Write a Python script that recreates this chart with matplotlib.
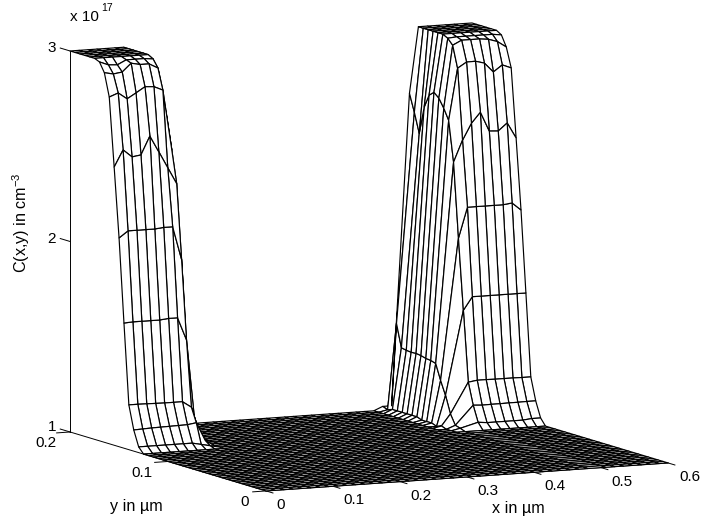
import numpy as np
import matplotlib
matplotlib.use("Agg")
import matplotlib.pyplot as plt

plt.rcParams["font.family"] = ["Liberation Sans", "DejaVu Sans"]
plt.rcParams["mathtext.fontset"] = "custom"
plt.rcParams["mathtext.rm"] = "Liberation Sans"
plt.rcParams["mathtext.default"] = "rm"

W, H = 702, 519

# mesh axes, um (x mesh skips one line on the slope of the right ridge)
x_um = np.delete(np.linspace(0, 0.6, 46), 37)
y_um = np.linspace(0, 0.2, 41)

x_ticks = [0, 0.1, 0.2, 0.3, 0.4, 0.5, 0.6]
y_ticks = [0, 0.1, 0.2]
z_ticks = [1, 2, 3]

# concentration read off the walls (x 1e17), rows y index 40 -> 26
# left ridge: first 9 x lines
left_rows = [
    [3, 3, 3, 3, 3, 3, 3, 2.89, 1.1],
    [3, 3, 3, 3, 3, 3, 3, 2.89, 1.1],
    [3, 3, 3, 3, 3, 3, 3, 2.89, 1.1],
    [3, 3, 3, 3, 3, 3, 3, 2.89, 1.1],
    [3, 3, 3, 3, 3, 3, 3, 2.89, 1.1],
    [3, 3, 3, 3, 3, 3, 3, 2.89, 1.1],
    [2.989, 2.97, 2.967, 2.99, 2.99, 2.99, 2.985, 2.79, 1.1],
    [2.94, 2.93, 2.937, 2.98, 2.97, 2.97, 2.945, 2.68, 1.1],
    [2.82, 2.838, 2.804, 2.832, 2.861, 2.858, 2.837, 2.52, 1.1],
    [2.46, 2.547, 2.507, 2.514, 2.61, 2.524, 2.437, 2.35, 1.1],
    [2.096, 2.13, 2.13, 2.13, 2.13, 2.135, 2.135, 1.96, 1.1],
    [1.657, 1.66, 1.66, 1.66, 1.66, 1.665, 1.665, 1.546, 1.08],
    [1.235, 1.235, 1.234, 1.233, 1.232, 1.232, 1.232, 1.2, 1.05],
    [1.111, 1.113, 1.115, 1.116, 1.117, 1.118, 1.119, 1.126, 1.03],
    [1.03, 1.03, 1.03, 1.03, 1.03, 1.03, 1.03, 1.02, 1.01],
]
# right ridge: last 10 x lines
right_rows = [
    [1.02, 1.02, 2.654, 3, 3, 3, 3, 3, 3, 3],
    [1.01, 1.46, 2.562, 3, 3, 3, 3, 3, 3, 3],
    [1.02, 1.34, 2.459, 3, 3, 3, 3, 3, 3, 3],
    [1.02, 1.335, 2.604, 3, 3, 3, 3, 3, 3, 3],
    [1.02, 1.332, 2.675, 3, 3, 3, 3, 3, 3, 3],
    [1.02, 1.334, 2.698, 3, 3, 3, 3, 3, 3, 3],
    [1.02, 1.33, 2.675, 2.986, 2.99, 2.99, 2.99, 2.99, 2.99, 2.984],
    [1.02, 1.323, 2.63, 2.957, 2.98, 2.98, 2.98, 2.975, 2.96, 2.928],
    [1.01, 1.32, 2.574, 2.844, 2.873, 2.874, 2.861, 2.811, 2.845, 2.826],
    [1.01, 1.312, 2.362, 2.474, 2.56, 2.615, 2.512, 2.509, 2.548, 2.466],
    [1.01, 1.231, 1.971, 2.13, 2.13, 2.13, 2.13, 2.13, 2.136, 2.096],
    [1.0, 1.16, 1.6, 1.668, 1.668, 1.668, 1.668, 1.668, 1.668, 1.668],
    [1.01, 1.07, 1.23, 1.237, 1.237, 1.236, 1.236, 1.236, 1.235, 1.235],
    [1.0, 1.018, 1.117, 1.114, 1.115, 1.115, 1.116, 1.116, 1.117, 1.117],
    [1.0, 1.01, 1.035, 1.03, 1.03, 1.03, 1.03, 1.03, 1.035, 1.035],
]


def px_text(fig, px, py, s, **kw):
    kw.setdefault("ha", "center")
    kw.setdefault("va", "center")
    kw.setdefault("fontsize", 11)
    fig.text(px / W, 1 - py / H, s, **kw)


Z = np.ones((len(y_um), len(x_um)))
for k in range(len(left_rows)):
    Z[40 - k, :9] = left_rows[k]
    Z[40 - k, -10:] = right_rows[k]
X, Y = np.meshgrid(x_um, y_um)

fig = plt.figure(figsize=(W / 100, H / 100), dpi=100, facecolor="white")
# axes box is bigger than the figure so the mesh never gets clipped
side = 721.0
ax = fig.add_axes([-1.2 / W, (H - 627.2) / H, side / W, side / H], projection="3d")
ax.set_proj_type("ortho")
ax.view_init(elev=8.32, azim=-115.7)
ax.set_box_aspect((446, 452, 385), zoom=1.0)
ax.set_xlim(0, 0.6)
ax.set_ylim(0, 0.2)
ax.set_zlim(1, 3)
ax.set_axis_off()
ax.patch.set_alpha(0)
ax.computed_zorder = False

# axis lines and ticks go under the mesh, MATLAB style box
line = dict(color="black", lw=0.7, zorder=1, clip_on=False)
ax.plot([0, 0.6], [0, 0], [1, 1], **line)
ax.plot([0, 0], [0, 0.2], [1, 1], **line)
ax.plot([0, 0], [0.2, 0.2], [1, 3], **line)
for t in x_ticks:
    ax.plot([t, t], [0, -0.007], [1, 1], **line)
for t in y_ticks:
    ax.plot([0, -0.02], [t, t], [1, 1], **line)
for t in z_ticks:
    ax.plot([0, 0], [0.2, 0.21], [t, t], **line)

ax.plot_surface(X, Y, Z, rstride=1, cstride=1, color="white", edgecolor="black",
                linewidth=0.85, shade=False, antialiased=True, zorder=2)

# tick labels
x_label_px = [(276, 505), (343, 500), (410, 496), (477, 491), (544, 486), (611, 482), (679, 477)]
for t, (px, py) in zip(x_ticks, x_label_px):
    px_text(fig, px, py, "0" if t == 0 else str(t), ha="left")
y_label_px = [(249, 502), (152, 473), (56, 443)]
for t, (px, py) in zip(y_ticks, y_label_px):
    px_text(fig, px, py, "0" if t == 0 else str(t), ha="right")
z_label_px = [(56, 427), (56, 239), (56, 48)]
for t, (px, py) in zip(z_ticks, z_label_px):
    px_text(fig, px, py, str(t), ha="right")

px_text(fig, 70, 17, "x 10", ha="left")
px_text(fig, 101, 8, "17", ha="left", fontsize=7.5)
px_text(fig, 136, 507, "y in \u00b5m", fontsize=11.6)
px_text(fig, 518, 509, "x in \u00b5m", fontsize=11.6)
px_text(fig, 21, 223, "C(x,y) in cm$^{-3}$", rotation=90, fontsize=11.6)

fig.savefig("out.png", dpi=100, facecolor="white")
